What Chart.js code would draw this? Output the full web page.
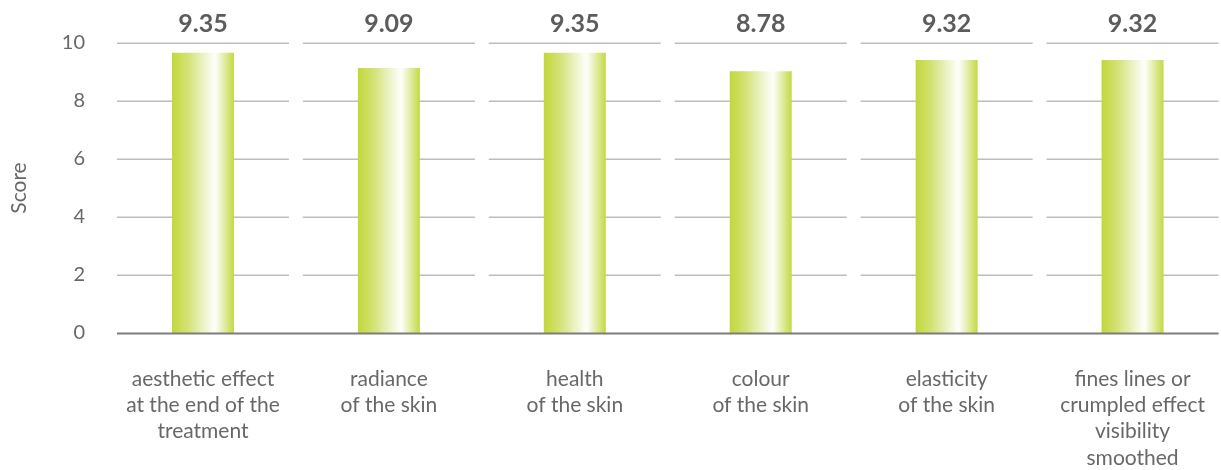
<!DOCTYPE html>
<html>
<head>
<meta charset="utf-8">
<script src="https://cdn.jsdelivr.net/npm/chart.js@4"></script>
<style>
  html, body { margin: 0; padding: 0; background: #ffffff; overflow: hidden; }
  #wrap { width: 1238px; height: 470px; position: relative; }
</style>
</head>
<body>
<div id="wrap"><canvas id="c" width="1238" height="470"></canvas></div>
<script>
// ---- data ----
const categories = [
  ["aesthetic effect", "at the end of the", "treatment"],
  ["radiance", "of the skin"],
  ["health", "of the skin"],
  ["colour", "of the skin"],
  ["elasticity", "of the skin"],
  ["fines lines or", "crumpled effect", "visibility", "smoothed"]
];
// bar heights as drawn in the picture (score axis units)
const barHeights = [9.66, 9.14, 9.66, 9.03, 9.41, 9.41];
// score values printed above each bar
const scoreLabels = ["9.35", "9.09", "9.35", "8.78", "9.32", "9.32"];
const yTicks = [0, 2, 4, 6, 8, 10];
const yAxisTitle = "Score";

const TEXT = "#686868";
const FONT = 'Lato, "DejaVu Sans", sans-serif';
const CAT_PCT = 62 / 186;

function barFill(context) {
  const chart = context.chart;
  const xs = chart.scales && chart.scales.x;
  if (!xs || !chart.chartArea || context.dataIndex === undefined) return '#c8dc4a';
  const cx = xs.getPixelForValue(context.dataIndex);
  const w = xs.width / categories.length * CAT_PCT;
  const l = cx - w / 2, r = cx + w / 2;
  const g = chart.ctx.createLinearGradient(l, 0, r, 0);
  g.addColorStop(0.00, '#c2d73a');
  g.addColorStop(0.25, '#d3e273');
  g.addColorStop(0.50, '#ebf2c4');
  g.addColorStop(0.66, '#fbfdf3');
  g.addColorStop(0.70, '#fdfef8');
  g.addColorStop(0.78, '#eef4cc');
  g.addColorStop(1.00, '#c4d943');
  return g;
}

const segGrid = {
  id: 'segGrid',
  beforeDatasetsDraw(chart) {
    const ctx = chart.ctx, x = chart.scales.x, y = chart.scales.y;
    ctx.save();
    ctx.lineWidth = 1.5;
    ctx.strokeStyle = '#bdbdbd';
    yTicks.forEach(v => {
      if (v === 0) return;
      const py = Math.round(y.getPixelForValue(v)) + 0.25;
      categories.forEach((c, i) => {
        const cx = x.getPixelForValue(i);
        ctx.beginPath();
        ctx.moveTo(cx - 86, py);
        ctx.lineTo(cx + 86, py);
        ctx.stroke();
      });
    });
    ctx.restore();
  },
  afterDatasetsDraw(chart) {
    const ctx = chart.ctx, x = chart.scales.x, y = chart.scales.y;
    ctx.save();
    ctx.lineWidth = 2;
    ctx.strokeStyle = '#7d7d7d';
    const py = y.getPixelForValue(0) + 0.5;
    ctx.beginPath();
    ctx.moveTo(x.getPixelForValue(0) - 86, py);
    ctx.lineTo(Math.min(1220, x.getPixelForValue(categories.length - 1) + 86), py);
    ctx.stroke();
    // printed score labels
    ctx.fillStyle = '#5c5c5c';
    ctx.font = 'bold 25px ' + FONT;
    ctx.textAlign = 'center';
    ctx.textBaseline = 'alphabetic';
    scoreLabels.forEach((s, i) => {
      ctx.fillText(s, x.getPixelForValue(i), 32);
    });
    ctx.restore();
  }
};

new Chart(document.getElementById('c'), {
  type: 'bar',
  data: {
    labels: categories,
    datasets: [{
      data: barHeights,
      backgroundColor: barFill,
      borderWidth: 0,
      barPercentage: 1,
      categoryPercentage: CAT_PCT
    }]
  },
  options: {
    responsive: false,
    animation: false,
    layout: { padding: { top: 43, right: 0, bottom: 0, left: 0 } },
    plugins: { legend: { display: false }, tooltip: { enabled: false } },
    scales: {
      x: {
        grid: { display: false, drawTicks: false },
        border: { display: false },
        ticks: {
          color: TEXT,
          font: { family: FONT, size: 21, weight: '400', lineHeight: 1.25 },
          padding: 33,
          maxRotation: 0,
          autoSkip: false
        },
        afterFit(s) { s.height = 137; }
      },
      y: {
        min: 0, max: 10,
        afterBuildTicks(s) { s.ticks = yTicks.map(v => ({ value: v })); },
        grid: { display: false, drawTicks: false },
        border: { display: false },
        ticks: {
          color: TEXT,
          font: { family: FONT, size: 20, weight: '400' },
          padding: 25
        },
        title: {
          display: true,
          text: yAxisTitle,
          color: TEXT,
          font: { family: FONT, size: 21, weight: '400' },
          padding: { top: 7, bottom: 0 }
        },
        afterFit(s) { s.width = 110; }
      }
    }
  }
  ,plugins: [segGrid]
});
</script>
</body>
</html>
